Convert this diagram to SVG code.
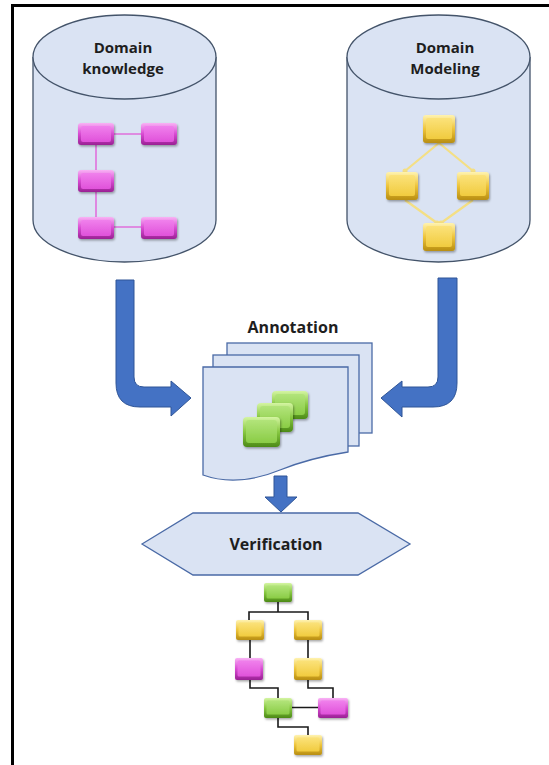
<svg xmlns="http://www.w3.org/2000/svg" width="549" height="765" viewBox="0 0 549 765">
  <defs>
    <style>
      .frame { stroke: #000; stroke-width: 3; fill: none; }
      .cyl { fill: #dae3f3; stroke: #44546a; stroke-width: 1.3; }
      .doc { fill: #dae3f3; stroke: #4a6aa6; stroke-width: 1.3; }
      .lbl { font-family: "Open Sans", "Liberation Sans", sans-serif; font-weight: 700; font-size: 16px; fill: #1e1e1e; text-anchor: middle; }
      .lbl2 { font-size: 15px; }
      .flow { fill: #4472c4; stroke: #2f5597; stroke-width: 1; }
      .wire { stroke: #1a1a1a; stroke-width: 1.6; fill: none; }
      .pwire { stroke: #e070dc; stroke-width: 1.6; fill: none; }
      .ywire { stroke: #f4df84; stroke-width: 2.2; fill: none; }
      .pk-o { fill: url(#pkOut); }
      .pk-i { fill: url(#pkIn); }
      .yl-o { fill: url(#ylOut); }
      .yl-i { fill: url(#ylIn); }
      .gr-o { fill: url(#grOut); }
      .gr-i { fill: url(#grIn); }
      .box { filter: url(#shade); }
    </style>
    <linearGradient id="pkOut" x1="0" y1="0" x2="0" y2="1">
      <stop offset="0" stop-color="#f9b2f5"/>
      <stop offset="0.5" stop-color="#d84ad2"/>
      <stop offset="1" stop-color="#9a2294"/>
    </linearGradient>
    <linearGradient id="pkIn" x1="0" y1="0" x2="0" y2="1">
      <stop offset="0" stop-color="#f080ec"/>
      <stop offset="1" stop-color="#e052da"/>
    </linearGradient>
    <linearGradient id="ylOut" x1="0" y1="0" x2="0" y2="1">
      <stop offset="0" stop-color="#fff3b0"/>
      <stop offset="0.5" stop-color="#eec43a"/>
      <stop offset="1" stop-color="#b88e12"/>
    </linearGradient>
    <linearGradient id="ylIn" x1="0" y1="0" x2="0" y2="1">
      <stop offset="0" stop-color="#fbe27a"/>
      <stop offset="1" stop-color="#f1cb3e"/>
    </linearGradient>
    <linearGradient id="grOut" x1="0" y1="0" x2="0" y2="1">
      <stop offset="0" stop-color="#d4f5a2"/>
      <stop offset="0.5" stop-color="#86c740"/>
      <stop offset="1" stop-color="#4c8a16"/>
    </linearGradient>
    <linearGradient id="grIn" x1="0" y1="0" x2="0" y2="1">
      <stop offset="0" stop-color="#b2e47a"/>
      <stop offset="1" stop-color="#8acc46"/>
    </linearGradient>
    <filter id="shade" x="-20%" y="-20%" width="150%" height="160%">
      <feDropShadow dx="1" dy="1.5" stdDeviation="1.2" flood-color="#000" flood-opacity="0.35"/>
    </filter>
  </defs>

  <!-- page frame: top and left rules only -->
  <path class="frame" d="M11,5.5 H549 M12.5,4 V765"/>

  <!-- Domain knowledge store -->
  <g id="domain-knowledge">
    <path class="cyl" d="M33,57 V220 A91.5,42 0 0 0 216,220 V57"/>
    <ellipse class="cyl" cx="124.5" cy="57" rx="91.5" ry="42"/>
    <text class="lbl lbl2" x="123" y="53">Domain</text>
    <text class="lbl lbl2" x="123" y="74">knowledge</text>
  </g>

  <!-- Domain Modeling store -->
  <g id="domain-modeling">
    <path class="cyl" d="M347,57 V220 A91.5,42 0 0 0 530,220 V57"/>
    <ellipse class="cyl" cx="438.5" cy="57" rx="91.5" ry="42"/>
    <text class="lbl lbl2" x="445" y="53">Domain</text>
    <text class="lbl lbl2" x="445" y="74">Modeling</text>
  </g>

  <!-- Annotation document stack -->
  <g id="annotation">
    <rect class="doc" x="227" y="343" width="145" height="90"/>
    <rect class="doc" x="213" y="355" width="146" height="91"/>
    <path class="doc" d="M203,367 H348 V452 C322,456 300,462 280,470 C256,480 228,484 203,475 Z"/>
    <text class="lbl" x="293" y="333">Annotation</text>
  </g>

  <!-- Verification step -->
  <g id="verification">
    <path class="doc" d="M142,544 L193,513 H358 L410,544 L358,575 H193 Z"/>
    <text class="lbl" x="276" y="550">Verification</text>
  </g>

  <!-- connectors -->
  <g id="connectors">
    <!-- big flow arrows -->
    <path class="flow" d="M116,280 H134 V377 Q134,387 144,387 H171 V381 L191,398 L171,416 V407 H140 Q116,407 116,383 Z"/>
    <path class="flow" d="M457,278 V383 Q457,407 433,407 H402 V417 L381,398 L402,381 V387 H428 Q438,387 438,377 V278 Z"/>
    <path class="flow" d="M274,476 H287 V497 H297 L281,512 L265,497 H274 Z"/>

    <!-- links inside Domain knowledge -->
    <path class="pwire" d="M114,134 H141 M96,145 V217 M114,227 H141"/>

    <!-- links inside Domain Modeling -->
    <path class="ywire" d="M439,143 L405,171 M439,143 L473,171 M405,200 L437,223 M473,200 L441,223"/>
    <g fill="#f4df84">
      <circle cx="405" cy="171" r="2.5"/>
      <circle cx="473" cy="171" r="2.5"/>
      <circle cx="437" cy="223" r="2.5"/>
      <circle cx="441" cy="223" r="2.5"/>
    </g>

    <!-- verification result tree -->
    <path class="wire" d="M278,602 V612 M249,620 V612 H308 V620 M250,640 V658 M308,640 V658 M250,680 V688 H278 V698 M308,680 V688 H333 V698 M292,707.5 H318 M278,718 V727 H308 V735"/>
  </g>

  <!-- knowledge graph nodes -->
  <g id="k1" class="box"><rect class="pk-o" x="78" y="123" width="36" height="22" rx="3"/><rect class="pk-i" x="81" y="126" width="30" height="16" rx="2"/></g>
  <g id="k2" class="box"><rect class="pk-o" x="141" y="123" width="36" height="22" rx="3"/><rect class="pk-i" x="144" y="126" width="30" height="16" rx="2"/></g>
  <g id="k3" class="box"><rect class="pk-o" x="78" y="170" width="36" height="22" rx="3"/><rect class="pk-i" x="81" y="173" width="30" height="16" rx="2"/></g>
  <g id="k4" class="box"><rect class="pk-o" x="78" y="217" width="36" height="22" rx="3"/><rect class="pk-i" x="81" y="220" width="30" height="16" rx="2"/></g>
  <g id="k5" class="box"><rect class="pk-o" x="141" y="217" width="36" height="22" rx="3"/><rect class="pk-i" x="144" y="220" width="30" height="16" rx="2"/></g>

  <!-- model nodes -->
  <g id="m1" class="box"><rect class="yl-o" x="423" y="115" width="32" height="28" rx="3"/><rect class="yl-i" x="426" y="118" width="26" height="21" rx="2"/></g>
  <g id="m2" class="box"><rect class="yl-o" x="386" y="172" width="32" height="28" rx="3"/><rect class="yl-i" x="389" y="175" width="26" height="21" rx="2"/></g>
  <g id="m3" class="box"><rect class="yl-o" x="457" y="172" width="32" height="28" rx="3"/><rect class="yl-i" x="460" y="175" width="26" height="21" rx="2"/></g>
  <g id="m4" class="box"><rect class="yl-o" x="423" y="223" width="32" height="28" rx="3"/><rect class="yl-i" x="426" y="226" width="26" height="21" rx="2"/></g>

  <!-- annotated blocks -->
  <g id="a3" class="box"><rect class="gr-o" x="272" y="391" width="36" height="28" rx="4"/><rect class="gr-i" x="275" y="394" width="30" height="21" rx="3"/></g>
  <g id="a2" class="box"><rect class="gr-o" x="257" y="403" width="36" height="29" rx="4"/><rect class="gr-i" x="260" y="406" width="30" height="22" rx="3"/></g>
  <g id="a1" class="box"><rect class="gr-o" x="243" y="417" width="37" height="30" rx="4"/><rect class="gr-i" x="246" y="420" width="31" height="23" rx="3"/></g>

  <!-- verified tree nodes -->
  <g id="t1" class="box"><rect class="gr-o" x="264" y="583" width="28" height="19" rx="2"/><rect class="gr-i" x="266.5" y="585.5" width="23" height="13" rx="1.5"/></g>
  <g id="t2" class="box"><rect class="yl-o" x="236" y="620" width="28" height="20" rx="2"/><rect class="yl-i" x="238.5" y="622.5" width="23" height="14" rx="1.5"/></g>
  <g id="t3" class="box"><rect class="yl-o" x="294" y="620" width="28" height="20" rx="2"/><rect class="yl-i" x="296.5" y="622.5" width="23" height="14" rx="1.5"/></g>
  <g id="t4" class="box"><rect class="pk-o" x="235" y="658" width="28" height="22" rx="2"/><rect class="pk-i" x="237.5" y="660.5" width="23" height="16" rx="1.5"/></g>
  <g id="t5" class="box"><rect class="yl-o" x="294" y="658" width="28" height="22" rx="2"/><rect class="yl-i" x="296.5" y="660.5" width="23" height="16" rx="1.5"/></g>
  <g id="t6" class="box"><rect class="gr-o" x="264" y="698" width="28" height="20" rx="2"/><rect class="gr-i" x="266.5" y="700.5" width="23" height="14" rx="1.5"/></g>
  <g id="t7" class="box"><rect class="pk-o" x="318" y="698" width="30" height="20" rx="2"/><rect class="pk-i" x="320.5" y="700.5" width="25" height="14" rx="1.5"/></g>
  <g id="t8" class="box"><rect class="yl-o" x="294" y="735" width="28" height="20" rx="2"/><rect class="yl-i" x="296.5" y="737.5" width="23" height="14" rx="1.5"/></g>
</svg>
